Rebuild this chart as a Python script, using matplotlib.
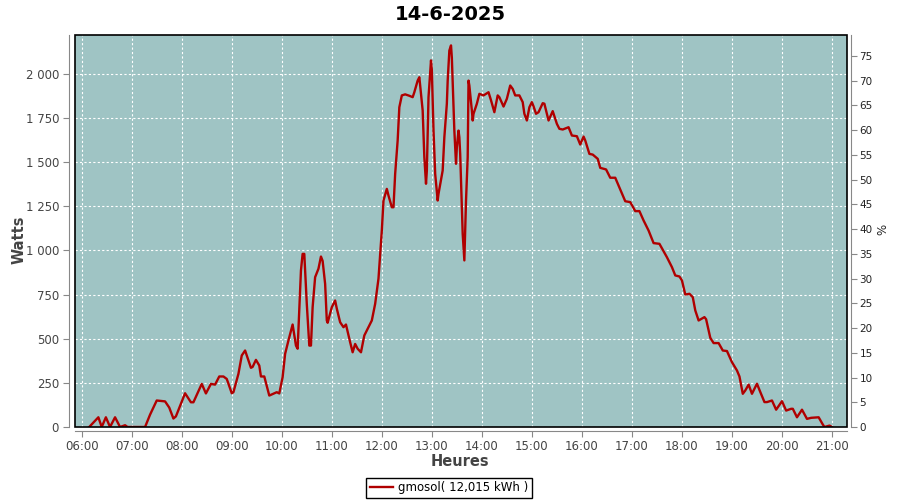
import numpy as np
import matplotlib
matplotlib.use('Agg')
import matplotlib.pyplot as plt
from matplotlib.patches import Rectangle
from matplotlib.ticker import FuncFormatter, MultipleLocator

title = '14-6-2025'
legend_label = 'gmosol( 12,015 kWh )'
peak_power = 2800  # W that matches 100 % on the right axis

times = ['06:09', '06:20', '06:24', '06:29', '06:34', '06:40', '06:46', '06:52', '06:55', '07:16',
         '07:22', '07:30', '07:40', '07:45', '07:50', '07:53', '08:04', '08:11', '08:14', '08:24',
         '08:29', '08:35', '08:40', '08:45', '08:50', '08:54', '09:00', '09:02', '09:08', '09:12',
         '09:16', '09:23', '09:25', '09:29', '09:33', '09:35', '09:39', '09:45', '09:54', '09:57',
         '10:01', '10:04', '10:08', '10:12', '10:13', '10:17', '10:19', '10:21', '10:23', '10:25',
         '10:27', '10:30', '10:33', '10:35', '10:37', '10:40', '10:44', '10:47', '10:49', '10:52',
         '10:54', '10:55', '11:00', '11:04', '11:06', '11:10', '11:14', '11:17', '11:22', '11:25',
         '11:28', '11:31', '11:35', '11:39', '11:44', '11:48', '11:52', '11:56', '11:58', '12:00',
         '12:02', '12:06', '12:08', '12:12', '12:14', '12:16', '12:19', '12:21', '12:24', '12:28',
         '12:33', '12:37', '12:39', '12:43', '12:45', '12:46', '12:49', '12:51', '12:53', '12:54',
         '12:56', '12:59', '13:00', '13:02', '13:04', '13:07', '13:08', '13:13', '13:15', '13:18',
         '13:19', '13:21', '13:23', '13:24', '13:27', '13:29', '13:30', '13:32', '13:33', '13:34',
         '13:37', '13:39', '13:41', '13:43', '13:44', '13:45', '13:48', '13:49', '13:50', '13:54',
         '13:57', '14:02', '14:08', '14:11', '14:15', '14:19', '14:21', '14:26', '14:30', '14:34',
         '14:37', '14:40', '14:45', '14:49', '14:51', '14:54', '14:57', '15:00', '15:02', '15:05',
         '15:08', '15:13', '15:15', '15:20', '15:25', '15:30', '15:33', '15:37', '15:44', '15:48',
         '15:54', '15:58', '16:02', '16:04', '16:09', '16:13', '16:19', '16:22', '16:29', '16:34',
         '16:40', '16:44', '16:48', '16:52', '16:58', '17:04', '17:09', '17:14', '17:20', '17:26',
         '17:33', '17:37', '17:42', '17:48', '17:52', '17:57', '18:00', '18:04', '18:09', '18:13',
         '18:16', '18:20', '18:27', '18:29', '18:34', '18:38', '18:44', '18:49', '18:54', '19:00',
         '19:06', '19:09', '19:13', '19:16', '19:20', '19:24', '19:30', '19:34', '19:39', '19:42',
         '19:48', '19:53', '20:00', '20:05', '20:11', '20:13', '20:18', '20:24', '20:30', '20:35',
         '20:44', '20:49', '20:51', '20:57', '21:00']

watts = [0, 55, 0, 55, 0, 55, 0, 10, 0, 0,
         70, 150, 145, 110, 48, 60, 191, 140, 140, 244,
         190, 244, 240, 286, 286, 272, 191, 197, 301, 405,
         433, 335, 340, 380, 348, 286, 286, 178, 197, 190,
         282, 414, 490, 561, 580, 461, 443, 669, 886, 980,
         980, 697, 461, 461, 678, 848, 896, 965, 940, 810,
         603, 590, 678, 716, 670, 593, 565, 580, 480, 423,
         470, 443, 423, 518, 565, 603, 697, 840, 980, 1112,
         1282, 1348, 1310, 1244, 1244, 1433, 1622, 1810, 1877, 1883,
         1875, 1867, 1895, 1961, 1980, 1933, 1792, 1527, 1377, 1450,
         1867, 2075, 2020, 1678, 1433, 1282, 1320, 1452, 1640, 1830,
         1960, 2131, 2160, 2090, 1678, 1490, 1584, 1678, 1640, 1546,
         1094, 943, 1282, 1527, 1961, 1933, 1792, 1735, 1773, 1830,
         1886, 1877, 1895, 1849, 1782, 1877, 1867, 1814, 1858, 1933,
         1914, 1877, 1877, 1839, 1773, 1735, 1810, 1839, 1815, 1773,
         1782, 1833, 1830, 1735, 1788, 1716, 1688, 1684, 1697, 1650,
         1646, 1599, 1644, 1622, 1546, 1542, 1518, 1467, 1458, 1411,
         1411, 1367, 1324, 1278, 1273, 1222, 1222, 1169, 1112, 1041,
         1037, 1003, 961, 905, 858, 852, 830, 750, 754, 735,
         660, 603, 622, 610, 505, 475, 475, 433, 430, 367,
         320, 286, 188, 207, 240, 188, 245, 198, 141, 141,
         150, 98, 146, 93, 103, 103, 55, 98, 46, 52,
         55, 14, 0, 8, 0]

hours = np.array([int(t[:2]) + int(t[3:]) / 60. for t in times])
watts = np.array(watts)

bg_color = '#9fc4c4'
line_color = '#b00000'
axis_gray = '#888888'
text_gray = '#444444'

fig = plt.figure(figsize=(9, 5), dpi=100)
ax = fig.add_axes([75/900., 73/500., 772/900., 392/500.])
ax.set_facecolor(bg_color)

ax.plot(hours, watts, color=line_color, lw=1.7, zorder=3, label=legend_label)

ax.set_xlim(5.866, 21.3)
ax.set_ylim(0, 2219)
ax.xaxis.set_major_locator(MultipleLocator(1))
ax.yaxis.set_major_locator(MultipleLocator(250))
ax.xaxis.set_major_formatter(FuncFormatter(lambda h, p: '%02d:00' % int(round(h))))
ax.yaxis.set_major_formatter(FuncFormatter(lambda v, p: '{:,}'.format(int(v)).replace(',', ' ')))
ax.grid(color='white', linestyle=(0, (2, 2)), linewidth=0.8)
ax.set_axisbelow(True)

for s in ['top', 'right']:
  ax.spines[s].set_visible(False)
ax.spines['left'].set_position(('outward', 4))
ax.spines['bottom'].set_position(('outward', 3))
for s in ['left', 'bottom']:
  ax.spines[s].set_color(axis_gray)
ax.tick_params(direction='out', length=4, color=axis_gray, labelcolor=text_gray, labelsize=8.5)
ax.tick_params(axis='x', pad=2)

ax2 = ax.twinx()
ax2.set_ylim(0, 2219. / peak_power * 100)
ax2.yaxis.set_major_locator(MultipleLocator(5))
for s in ['top', 'left', 'bottom']:
  ax2.spines[s].set_visible(False)
ax2.spines['right'].set_position(('outward', 3))
ax2.spines['right'].set_color(axis_gray)
ax2.tick_params(direction='out', length=4, color=axis_gray, labelcolor='#222222', labelsize=7.5, pad=2)

frame = Rectangle((0, 0), 1, 1, transform=ax.transAxes, fill=False, edgecolor='black', lw=1.2, zorder=5, clip_on=False)
ax.add_patch(frame)

fig.text(0.5, 1 - 14/500., title, ha='center', va='center', fontsize=14, fontweight='bold')
fig.text(460/900., 1 - 461/500., 'Heures', ha='center', va='center', fontsize=10.5, fontweight='bold', color=text_gray)
fig.text(19/900., 1 - 240/500., 'Watts', ha='center', va='center', rotation=90, fontsize=10.5, fontweight='bold', color=text_gray)
fig.text(883/900., 1 - 229/500., '%', ha='center', va='center', rotation=90, fontsize=8.5, color='#222222')

leg = fig.legend(loc='center', bbox_to_anchor=(449/900., 1 - 488/500.), fontsize=8.5, fancybox=False,
                 edgecolor='black', framealpha=1, handlelength=2.0, borderpad=0.3, handletextpad=0.4,
                 borderaxespad=0)
leg.get_frame().set_linewidth(1.0)

fig.savefig('out.png', dpi=100)
